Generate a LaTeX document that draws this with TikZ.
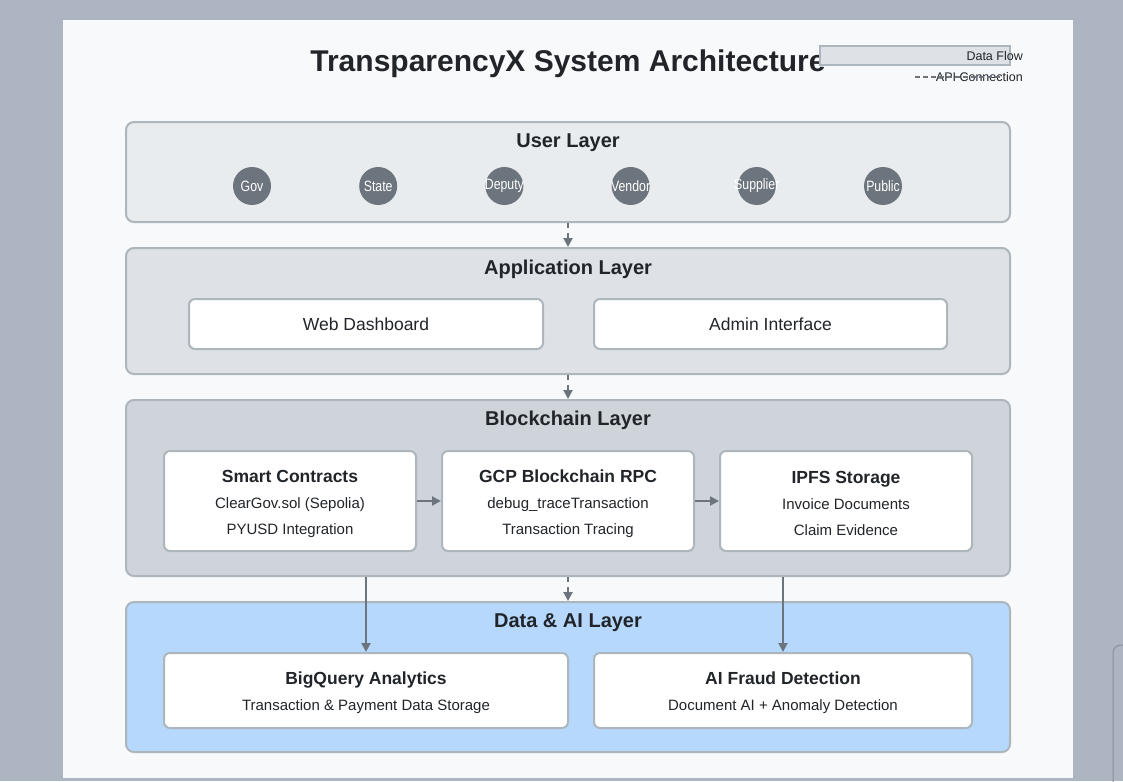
\documentclass[tikz,border=0pt]{standalone}
\usepackage{fontspec}
\setmainfont{Liberation Sans}
\usetikzlibrary{positioning,arrows.meta}
\definecolor{slate}{HTML}{ADB5C3}
\definecolor{paper}{HTML}{F8F9FA}
\definecolor{edge}{HTML}{ADB5BD}
\definecolor{ink}{HTML}{212529}
\definecolor{steel}{HTML}{6C757D}
\definecolor{userbg}{HTML}{E9ECEF}
\definecolor{appbg}{HTML}{DEE2E6}
\definecolor{chainbg}{HTML}{CED4DA}
\definecolor{aibg}{HTML}{B6D8FC}
\tikzset{
  layer/.style={rectangle, draw=edge, line width=2pt, rounded corners=8pt, minimum width=884pt},
  ltitle/.style={font=\fontsize{20}{22}\selectfont\bfseries, text=ink},
  box/.style={rectangle, draw=edge, fill=white, line width=2pt, rounded corners=6pt, text=ink, align=center, inner sep=0pt},
  actor/.style={circle, fill=steel, minimum size=38pt, inner sep=0pt, text=white, font=\fontsize{15}{16}\selectfont},
  flow/.style={draw=steel, line width=2pt, -{Triangle[length=9pt,width=9pt]}},
  api/.style={flow, dash pattern=on 5pt off 5pt},
  sub/.style={font=\fontsize{15}{26}\selectfont},
}
\newcommand{\boxhead}[1]{{\bfseries\fontsize{17.5}{26}\selectfont\rule{0pt}{18pt}#1}}

\begin{document}
\begin{tikzpicture}[x=1pt,y=-1pt]
\useasboundingbox[fill=slate] (0,0) rectangle (1123,781);
\fill[paper] (63,20) rectangle (1073,778);
\draw[steel!80, line width=1pt, rounded corners=8pt] (1113,790) |- (1130,645);

  \node[font=\fontsize{30}{32}\selectfont\bfseries, text=ink] (title) at (568,64) {TransparencyX System Architecture};
  % legend
  \node[rectangle, draw=edge, fill=appbg, line width=1.5pt, minimum width=190pt, minimum height=19pt] (lgflow) at (915,55.5) {};
  \node[anchor=east, font=\fontsize{12.5}{14}\selectfont, text=ink, inner sep=0pt] (lgflowtxt) at (1023,56) {Data Flow};
  \coordinate (lgapi) at (915,77);
  \node[anchor=east, font=\fontsize{12.5}{14}\selectfont, text=ink, inner sep=0pt] (lgapitxt) at (1023,77) {API Connection};
  \draw[steel, line width=2pt, dash pattern=on 5pt off 3pt] (lgapi) -- (lgapitxt.east -| 1000,0);

  % user layer
  \node[layer, fill=userbg, minimum height=100pt] (user) at (568,172) {};
  \node[ltitle] (usertitle) at (568,142.5) {User Layer};
  \foreach \who [count=\i from 0] in {Gov,State,Deputy,Vendor,Supplier,Public}
    \node[actor] (u\i) at (252+126.2*\i,186) {\makebox[0pt]{\raisebox{-1.5pt}{\scalebox{0.82}[1]{\who}}}};

  % application layer
  \node[layer, fill=appbg, minimum height=126pt] (app) at (568,311) {};
  \node[ltitle] (apptitle) at (568,269.5) {Application Layer};
  \node[box, minimum width=354pt, minimum height=50pt, font=\fontsize{17.5}{20}\selectfont] (web) at (366,324) {Web Dashboard};
  \node[box, minimum width=353pt, minimum height=50pt, font=\fontsize{17.5}{20}\selectfont] (admin) at (770.5,324) {Admin Interface};

  % blockchain layer
  \node[layer, fill=chainbg, minimum height=176pt] (chain) at (568,488) {};
  \node[ltitle] (chaintitle) at (568,420.5) {Blockchain Layer};
  \node[box, sub, minimum width=252pt, minimum height=100pt] (sc) at (290,501) {\boxhead{Smart Contracts}\\ClearGov.sol (Sepolia)\\PYUSD Integration};
  \node[box, sub, minimum width=252pt, minimum height=100pt, right=24pt of sc] (rpc) {\boxhead{GCP Blockchain RPC}\\debug\_traceTransaction\\Transaction Tracing};
  \node[box, sub, minimum width=252pt, minimum height=100pt, right=24pt of rpc] (ipfs) {\boxhead{IPFS Storage}\\Invoice Documents\\Claim Evidence};

  % data & ai layer
  \node[layer, fill=aibg, minimum height=150pt] (data) at (568,677) {};
  \node[ltitle] (datatitle) at (568,622.5) {Data \& AI Layer};
  \node[box, sub, minimum width=404pt, minimum height=75pt] (bq) at (366,690.5) {\boxhead{BigQuery Analytics}\\Transaction \& Payment Data Storage};
  \node[box, sub, minimum width=378pt, minimum height=75pt] (fraud) at (783,690.5) {\boxhead{AI Fraud Detection}\\Document AI + Anomaly Detection};

  % connections
  \draw[api] (user.south) -- (app.north);
  \draw[api] (app.south) -- (chain.north);
  \draw[api] (chain.south) -- (data.north);
  \draw[flow] (sc) -- (rpc);
  \draw[flow] (rpc) -- (ipfs);
  \draw[flow] (bq.north |- chain.south) -- (bq.north);
  \draw[flow] (fraud.north |- chain.south) -- (fraud.north);
\end{tikzpicture}
\end{document}
